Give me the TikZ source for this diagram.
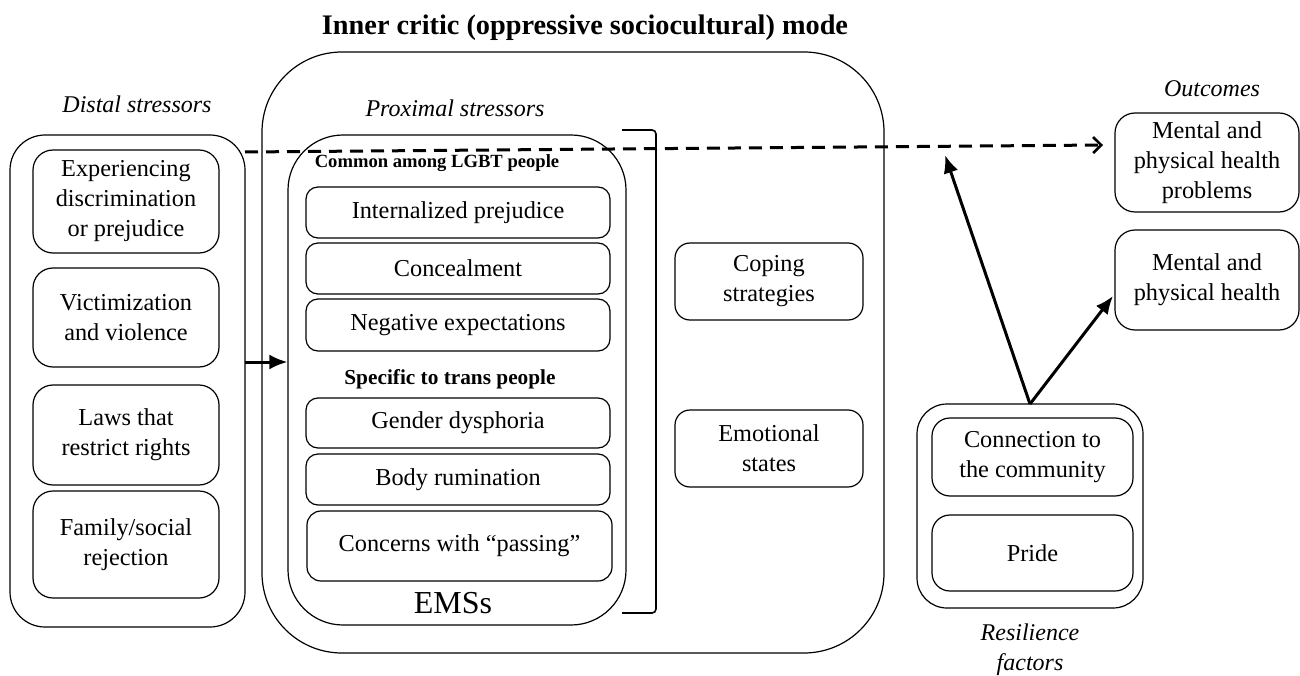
\documentclass[tikz,border=0pt]{standalone}
\usepackage{fontspec}
\setmainfont{Liberation Serif}
\usetikzlibrary{arrows.meta,calc}
\begin{document}
\begin{tikzpicture}[x=1pt,y=-1pt,
  box/.style={draw,line width=1.2pt,align=center,inner sep=0pt,
    font=\fontsize{24.3}{30}\selectfont},
  lbl/.style={inner sep=0pt,font=\fontsize{24}{30}\selectfont\itshape,align=center},
  hdr/.style={inner sep=0pt,font=\fontsize{20.5}{24}\selectfont\bfseries},
  arr/.style={line width=3pt,-{Latex[length=18pt,width=15pt]}},
  darr/.style={line width=3pt,dash pattern=on 13pt off 8pt,-{Straight Barb[length=8pt,width=16pt,line width=2.6pt]}}
]
\useasboundingbox (0,0) rectangle (1300,676);

% title
\node[inner sep=0pt,font=\fontsize{28.3}{32}\selectfont\bfseries] (title) at (585,28) {Inner critic (oppressive sociocultural) mode};

% distal
\node[lbl] (distlbl) at (137,104) {Distal stressors};
\node[box,rounded corners=35pt,minimum width=235pt,minimum height=492pt] (distal) at (127.5,381) {};
\node[box,rounded corners=20pt,minimum width=186pt,minimum height=103pt] (exp) at (126,201.5) {Experiencing\\discrimination\\or prejudice};
\node[box,rounded corners=20pt,minimum width=186pt,minimum height=99pt] (vic) at (126,317.5) {Victimization\\and violence};
\node[box,rounded corners=20pt,minimum width=186pt,minimum height=100pt] (laws) at (126,435) {Laws that\\restrict rights};
\node[box,rounded corners=20pt,minimum width=186pt,minimum height=107pt] (fam) at (126,544.5) {Family/social\\rejection};

% inner critic mode
\node[box,rounded corners=80pt,minimum width=622pt,minimum height=601pt] (mode) at (573,352.5) {};
\node[lbl] (proxlbl) at (455,108) {Proximal stressors};
\node[box,rounded corners=55pt,minimum width=338pt,minimum height=490pt] (ems) at (457,380) {};
\node[hdr,font=\fontsize{18.6}{22}\selectfont\bfseries] (common) at (437,163) {Common among LGBT people};
\node[box,rounded corners=12pt,minimum width=304pt,minimum height=51pt] (intern) at (458,212.5) {Internalized prejudice};
\node[box,rounded corners=12pt,minimum width=304pt,minimum height=51pt] (conceal) at (458,268.5) {Concealment};
\node[box,rounded corners=12pt,minimum width=304pt,minimum height=52pt] (negexp) at (458,325) {Negative expectations};
\node[hdr,font=\fontsize{21.3}{24}\selectfont\bfseries] (specific) at (450,379) {Specific to trans people};
\node[box,rounded corners=12pt,minimum width=304pt,minimum height=50pt] (gender) at (458,423) {Gender dysphoria};
\node[box,rounded corners=12pt,minimum width=304pt,minimum height=51pt] (body) at (458,479.5) {Body rumination};
\node[box,rounded corners=14pt,minimum width=305pt,minimum height=70pt] (concerns) at (459.5,546) {Concerns with “passing”};
\node[inner sep=0pt,font=\fontsize{32}{36}\selectfont] (emss) at (453,603) {EMSs};

% bracket
\coordinate (bt) at (622,130);
\coordinate (bb) at (622,613);
\draw[line width=1.6pt,rounded corners=4pt] (bt) -- (656,130) -- (656,613) -- (bb);

\node[box,rounded corners=15pt,minimum width=188pt,minimum height=77pt] (coping) at (769,281.5) {Coping\\strategies};
\node[box,rounded corners=15pt,minimum width=188pt,minimum height=77pt] (emot) at (769,448.5) {Emotional\\states};

% outcomes
\node[lbl] (outlbl) at (1212,89) {Outcomes};
\node[box,rounded corners=20pt,minimum width=184pt,minimum height=99pt] (prob) at (1207,162.5) {Mental and\\physical health\\problems};
\node[box,rounded corners=20pt,minimum width=184pt,minimum height=100pt] (health) at (1207,280) {Mental and\\physical health};

% resilience
\node[box,rounded corners=30pt,minimum width=226pt,minimum height=204pt] (res) at (1030,506) {};
\node[box,rounded corners=18pt,minimum width=201pt,minimum height=78pt] (conn) at (1032.5,457) {Connection to\\the community};
\node[box,rounded corners=18pt,minimum width=201pt,minimum height=76pt] (pride) at (1032.5,553) {Pride};
\node[lbl] (reslbl) at (1030,650) {Resilience\\factors};

% connectors
\coordinate (a1) at (245,362);
\draw[arr] (a1) -- (a1 -| ems.west);
\coordinate (d1) at (245,152);
\coordinate (d2) at (1103,145);
\draw[darr] (d1) -- (d2);
\coordinate (rt) at (1030,404);
\coordinate (m1) at (945,155);
\coordinate (m2) at (1113,296);
\draw[arr] (rt) -- (m1);
\draw[arr] (rt) -- (m2);
\end{tikzpicture}
\end{document}
